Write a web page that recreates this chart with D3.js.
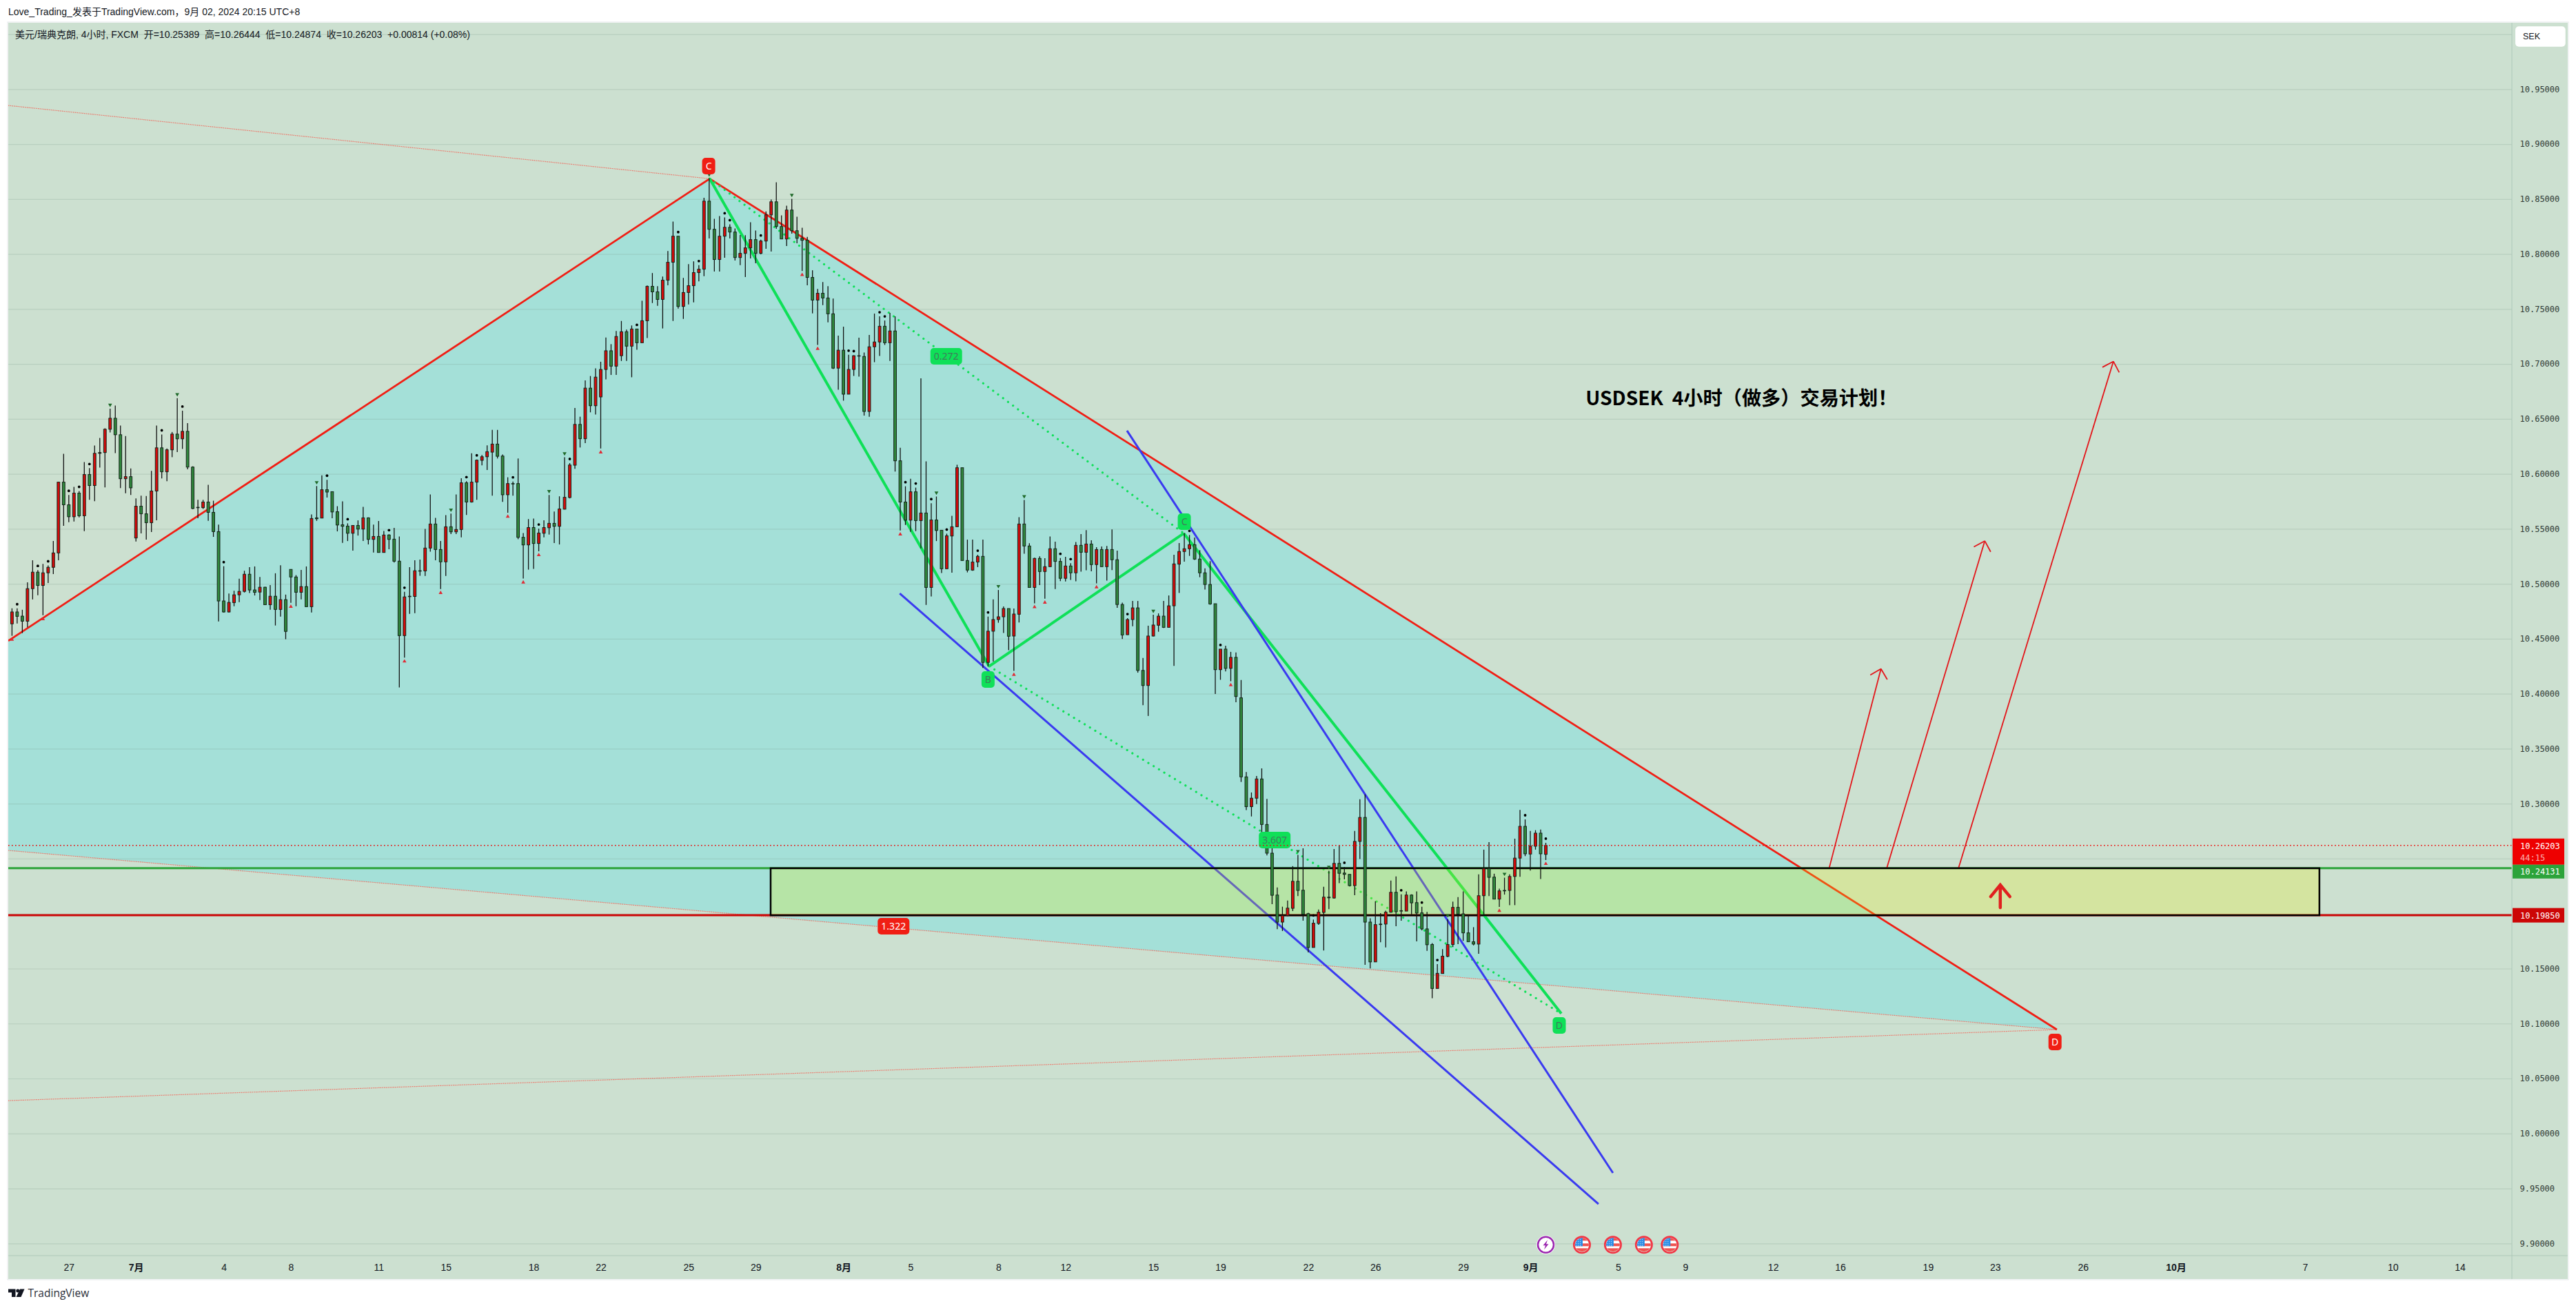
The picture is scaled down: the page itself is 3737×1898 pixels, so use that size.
<!DOCTYPE html>
<html><head><meta charset="utf-8">
<script src="https://cdnjs.cloudflare.com/ajax/libs/d3/7.8.5/d3.min.js"></script>
<style>html,body{margin:0;padding:0;background:#fff}svg{display:block;font-family:"Liberation Sans","Noto Sans CJK SC",sans-serif}</style></head><body>
<div id="chart"></div>
<script>
const opens=[
10.4636,10.4744,10.4706,10.4660,10.4956,10.5106,10.4985,10.5100,10.5150,10.5281,
10.5925,10.5719,10.5610,10.5825,10.5619,10.5994,10.5894,10.6187,10.6194,10.6406,
10.6506,10.6356,10.5956,10.5975,10.5417,10.5706,10.5637,10.5556,10.5844,10.6237,
10.6019,10.6219,10.6362,10.6319,10.6387,10.6062,10.5696,10.5693,10.5744,10.5650,
10.5475,10.4844,10.4744,10.4829,10.4900,10.4931,10.5087,10.4944,10.4925,10.4969,
10.4810,10.4887,10.4767,10.4856,10.5131,10.5062,10.4923,10.4975,10.4792,10.5600,
10.5598,10.5856,10.5838,10.5656,10.5537,10.5525,10.5460,10.5531,10.5498,10.5600,
10.5404,10.5431,10.5285,10.5444,10.5406,10.5206,10.4529,10.4883,10.4885,10.5119,
10.5117,10.5325,10.5544,10.5312,10.5200,10.5519,10.5473,10.5494,10.5919,10.5744,
10.5925,10.6123,10.6156,10.6198,10.6271,10.6162,10.5810,10.5912,10.5912,10.5423,
10.5354,10.5512,10.5367,10.5460,10.5510,10.5550,10.5523,10.5679,10.5785,10.6079,
10.6450,10.6320,10.6780,10.6620,10.6700,10.6950,10.7120,10.6980,10.7075,10.7293,
10.7162,10.7318,10.7193,10.7393,10.7706,10.7656,10.7587,10.7762,10.7925,10.8162,
10.7523,10.7650,10.7712,10.7831,10.7862,10.8481,10.8225,10.7950,10.8162,10.8243,
10.8200,10.7968,10.8006,10.8056,10.8131,10.8006,10.8118,10.8356,10.8475,10.8250,
10.8137,10.8400,10.8212,10.8143,10.8125,10.7787,10.7581,10.7643,10.7600,10.7456,
10.6962,10.7125,10.6725,10.6950,10.7075,10.7068,10.6568,10.7156,10.7200,10.7343,
10.7193,10.7300,10.6119,10.5744,10.5579,10.5837,10.5575,10.5644,10.4967,10.5581,
10.5487,10.5137,10.5435,10.5519,10.6056,10.5212,10.5125,10.5198,10.5250,10.4285,
10.4569,10.4675,10.4700,10.4775,10.4525,10.4723,10.5544,10.5344,10.4967,10.5231,
10.5112,10.5156,10.5319,10.5204,10.5050,10.5162,10.5100,10.5350,10.5287,10.5362,
10.5175,10.5312,10.5156,10.5312,10.5219,10.4812,10.4537,10.4675,10.4781,10.4212,
10.4075,10.4525,10.4623,10.4706,10.4604,10.4800,10.5179,10.5294,10.5319,10.5356,
10.5225,10.5100,10.4994,10.4819,10.4219,10.4406,10.4231,10.4331,10.3963,10.3244,
10.2973,10.3050,10.3225,10.2811,10.2550,10.2169,10.1923,10.1982,10.2048,10.2294,
10.2213,10.2000,10.1692,10.1911,10.2011,10.2150,10.2142,10.2457,10.2369,10.2357,
10.2255,10.2657,10.2875,10.1923,10.1561,10.1900,10.1905,10.2013,10.2194,10.2027,
10.2023,10.2169,10.2100,10.2007,10.1861,10.1719,10.1319,10.1455,10.1611,10.1719,
10.2057,10.1998,10.1825,10.1744,10.1723,10.2163,10.2411,10.2332,10.2132,10.2211,
10.2211,10.2338,10.2505,10.2794,10.2542,10.2613,10.2732,10.25389];
const closes=[
10.4744,10.4704,10.4660,10.4956,10.5106,10.4985,10.5100,10.5150,10.5281,10.5925,
10.5719,10.5610,10.5825,10.5619,10.5994,10.5894,10.6187,10.6194,10.6406,10.6506,
10.6356,10.5956,10.5975,10.5873,10.5706,10.5637,10.5556,10.5844,10.6237,10.6019,
10.6219,10.6362,10.6319,10.6387,10.6062,10.5685,10.5692,10.5744,10.5650,10.5475,
10.4844,10.4744,10.4831,10.4900,10.4931,10.5087,10.4944,10.4923,10.4969,10.4810,
10.4887,10.4767,10.4856,10.4567,10.5062,10.4923,10.4975,10.4792,10.5594,10.5592,
10.5856,10.5835,10.5654,10.5535,10.5523,10.5460,10.5531,10.5498,10.5600,10.5404,
10.5431,10.5285,10.5444,10.5404,10.5206,10.4529,10.4881,10.4887,10.5119,10.5117,
10.5325,10.5544,10.5312,10.5200,10.5519,10.5473,10.5494,10.5919,10.5744,10.5925,
10.6125,10.6156,10.6202,10.6271,10.6160,10.5810,10.5912,10.5908,10.5423,10.5354,
10.5512,10.5367,10.5462,10.5512,10.5550,10.5523,10.5681,10.5787,10.6081,10.6450,
10.6320,10.6780,10.6620,10.6880,10.6950,10.7120,10.6980,10.7250,10.7293,10.7162,
10.7318,10.7193,10.7393,10.7706,10.7656,10.7587,10.7762,10.7925,10.8162,10.7523,
10.7650,10.7712,10.7831,10.7862,10.8481,10.8225,10.7950,10.8162,10.8243,10.8200,
10.7968,10.8006,10.8056,10.8131,10.8006,10.8118,10.8356,10.8475,10.8250,10.8137,
10.8400,10.8212,10.8143,10.8125,10.7787,10.7581,10.7643,10.7600,10.7456,10.6962,
10.7125,10.6725,10.6950,10.7075,10.7071,10.6568,10.7156,10.7200,10.7343,10.7193,
10.7300,10.6119,10.5744,10.5579,10.5837,10.5575,10.5644,10.4967,10.5581,10.5485,
10.5137,10.5437,10.5519,10.6056,10.5212,10.5125,10.5198,10.5250,10.4285,10.4569,
10.4675,10.4700,10.4775,10.4523,10.4725,10.5544,10.5344,10.4967,10.5231,10.5112,
10.5156,10.5319,10.5204,10.5050,10.5162,10.5100,10.5350,10.5287,10.5362,10.5175,
10.5312,10.5156,10.5312,10.5219,10.4812,10.4535,10.4675,10.4781,10.4212,10.4075,
10.4525,10.4625,10.4706,10.4604,10.4800,10.5181,10.5294,10.5319,10.5356,10.5225,
10.5100,10.4994,10.4817,10.4219,10.4406,10.4231,10.4331,10.3975,10.3244,10.2973,
10.3050,10.3225,10.2811,10.2550,10.2167,10.1923,10.1982,10.2050,10.2294,10.2211,
10.1994,10.1692,10.1913,10.2013,10.2150,10.2144,10.2457,10.2367,10.2357,10.2255,
10.2657,10.2875,10.1923,10.1561,10.1900,10.1905,10.2013,10.2194,10.2017,10.2023,
10.2169,10.2098,10.2005,10.1861,10.1717,10.1319,10.1457,10.1613,10.1719,10.2057,
10.1996,10.1825,10.1744,10.1723,10.2163,10.2411,10.2330,10.2132,10.2207,10.2207,
10.2338,10.2505,10.2794,10.2544,10.2613,10.2732,10.2544,10.26203];
const highs=[
10.4777,10.4777,10.4764,10.5014,10.5214,10.5125,10.5181,10.5167,10.5389,10.5927,
10.6183,10.5808,10.5881,10.5844,10.6108,10.6052,10.6258,10.6327,10.6414,10.6594,
10.6621,10.6439,10.6344,10.6050,10.5777,10.5802,10.5798,10.6027,10.6439,10.6358,
10.6231,10.6381,10.6689,10.6575,10.6462,10.6069,10.5764,10.5764,10.5900,10.5756,
10.5539,10.5160,10.4912,10.4937,10.5046,10.5119,10.5152,10.5158,10.5062,10.4973,
10.4989,10.5096,10.5169,10.4902,10.5131,10.5079,10.5127,10.5158,10.5631,10.5889,
10.5987,10.5946,10.5840,10.5706,10.5750,10.5550,10.5531,10.5577,10.5700,10.5604,
10.5539,10.5571,10.5481,10.5450,10.5508,10.5431,10.4927,10.5152,10.5214,10.5221,
10.5500,10.5812,10.5600,10.5389,10.5625,10.5639,10.5812,10.5960,10.5933,10.6187,
10.6131,10.6171,10.6260,10.6400,10.6400,10.6177,10.5969,10.5931,10.6140,10.5462,
10.5589,10.5594,10.5502,10.5577,10.5808,10.5658,10.5796,10.6152,10.6098,10.6600,
10.6520,10.6850,10.6890,10.6960,10.7020,10.7240,10.7180,10.7300,10.7391,10.7312,
10.7350,10.7318,10.7575,10.7714,10.7827,10.7708,10.7795,10.8027,10.8295,10.8162,
10.7783,10.7908,10.7933,10.7898,10.8512,10.8689,10.8320,10.8345,10.8333,10.8270,
10.8233,10.8173,10.8171,10.8289,10.8214,10.8131,10.8387,10.8495,10.8652,10.8352,
10.8439,10.8502,10.8339,10.8239,10.8156,10.7852,10.7683,10.7745,10.7708,10.7595,
10.7258,10.7339,10.7083,10.7079,10.7239,10.7104,10.7264,10.7458,10.7433,10.7395,
10.7464,10.7433,10.6237,10.5887,10.5956,10.5875,10.6869,10.6114,10.5733,10.5794,
10.5487,10.5456,10.5619,10.6083,10.6056,10.5402,10.5402,10.5264,10.5402,10.4702,
10.4858,10.4944,10.4794,10.4775,10.4775,10.5606,10.5762,10.5369,10.5237,10.5250,
10.5233,10.5431,10.5383,10.5235,10.5246,10.5187,10.5381,10.5452,10.5489,10.5396,
10.5333,10.5339,10.5344,10.5494,10.5302,10.4829,10.4687,10.4844,10.4844,10.4325,
10.4619,10.4719,10.4731,10.4844,10.4894,10.5264,10.5371,10.5462,10.5444,10.5421,
10.5306,10.5140,10.5206,10.4819,10.4406,10.4437,10.4381,10.4375,10.4125,10.3288,
10.3102,10.3252,10.3321,10.3044,10.2732,10.2238,10.2063,10.2119,10.2432,10.2534,
10.2594,10.2007,10.1946,10.2038,10.2244,10.2390,10.2588,10.2623,10.2425,10.2357,
10.2752,10.3040,10.3084,10.1957,10.2113,10.2005,10.2027,10.2300,10.2338,10.2175,
10.2202,10.2175,10.2202,10.2063,10.2015,10.1732,10.1540,10.1677,10.1950,10.2109,
10.2150,10.2202,10.1988,10.1877,10.2357,10.2582,10.2650,10.2363,10.2227,10.2327,
10.2357,10.2682,10.2944,10.2857,10.2752,10.2759,10.2765,10.26444];
const lows=[
10.4527,10.4639,10.4552,10.4604,10.4858,10.4896,10.4714,10.5008,10.5089,10.5214,
10.5527,10.5560,10.5567,10.5604,10.5479,10.5764,10.5752,10.6058,10.5877,10.6377,
10.6189,10.5871,10.5823,10.5808,10.5385,10.5458,10.5402,10.5471,10.5577,10.5958,
10.5933,10.6152,10.6198,10.6227,10.6042,10.5679,10.5596,10.5681,10.5573,10.5427,
10.4658,10.4739,10.4739,10.4796,10.4833,10.4921,10.4917,10.4894,10.4852,10.4810,
10.4764,10.4621,10.4702,10.4496,10.4827,10.4796,10.4858,10.4792,10.4739,10.5573,
10.5598,10.5785,10.5596,10.5477,10.5373,10.5389,10.5302,10.5439,10.5389,10.5358,
10.5285,10.5285,10.5285,10.5314,10.5194,10.4058,10.4329,10.4727,10.4733,10.5073,
10.5071,10.5292,10.5214,10.4952,10.5071,10.5452,10.5452,10.5423,10.5627,10.5739,
10.5764,10.6077,10.6035,10.5802,10.6140,10.5746,10.5646,10.5802,10.5406,10.5048,
10.5129,10.5135,10.5296,10.5423,10.5448,10.5371,10.5358,10.5677,10.5777,10.6046,
10.6240,10.6280,10.6560,10.6540,10.6231,10.6860,10.6900,10.6900,10.7027,10.7027,
10.6879,10.7129,10.7193,10.7235,10.7554,10.7529,10.7323,10.7716,10.7391,10.7504,
10.7410,10.7541,10.7560,10.7752,10.7798,10.8141,10.7841,10.7841,10.7966,10.8141,
10.7941,10.7898,10.7791,10.7960,10.7916,10.7998,10.8048,10.8023,10.8229,10.8137,
10.8073,10.8185,10.8098,10.7845,10.7716,10.7460,10.7173,10.7535,10.7379,10.6954,
10.6766,10.6666,10.6725,10.6891,10.6885,10.6530,10.6520,10.7016,10.7073,10.7173,
10.7027,10.6021,10.5485,10.5535,10.5473,10.5479,10.5323,10.4808,10.4885,10.5389,
10.5098,10.5135,10.5102,10.5519,10.5212,10.5104,10.5119,10.5152,10.4235,10.4250,
10.4292,10.4646,10.4552,10.4396,10.4208,10.4648,10.5273,10.4967,10.4823,10.4989,
10.4864,10.5156,10.4952,10.5025,10.5021,10.5035,10.5023,10.5110,10.5123,10.5114,
10.5004,10.5156,10.5029,10.5125,10.4781,10.4498,10.4535,10.4614,10.4192,10.3896,
10.3798,10.4521,10.4564,10.4598,10.4604,10.4254,10.4917,10.5202,10.5254,10.5217,
10.5060,10.4948,10.4810,10.3998,10.4127,10.4204,10.4114,10.3923,10.3198,10.2942,
10.2884,10.2996,10.2713,10.2530,10.2086,10.1859,10.1842,10.1977,10.2023,10.2159,
10.1936,10.1648,10.1692,10.1898,10.1665,10.2040,10.2136,10.2277,10.2311,10.2248,
10.2167,10.2496,10.1534,10.1502,10.1561,10.1740,10.1692,10.2009,10.1886,10.1936,
10.2023,10.1994,10.1748,10.1848,10.1661,10.1230,10.1319,10.1455,10.1604,10.1696,
10.1723,10.1752,10.1744,10.1711,10.1634,10.1988,10.2159,10.2132,10.2061,10.2173,
10.2077,10.2077,10.2336,10.2523,10.2392,10.2582,10.2315,10.24874];

const dotBars=[1,5,7,11,13,15,29,33,41,61,65,73,76,88,90,97,102,108,121,129,133,138,139,145,162,163,168,169,173,175,178,181,187,189,203,205,216,228,234,252,258,269,273,276,293,297];
const upBars=[0,6,54,76,83,96,99,102,114,153,156,172,194,198,200,210,236,288,297];
const downBars=[19,32,59,85,104,107,135,151,179,191,196,221,249,255,278,289];

const yTicks=[10.95,10.9,10.85,10.8,10.75,10.7,10.65,10.6,10.55,10.5,10.45,10.4,10.35,10.3,10.15,10.1,10.05,10,9.95,9.9];
const gridTicks=[11,10.25,10.2].concat(yTicks);
const timeBars=[11,24,41,54,71,84,101,114,131,144,161,174,191,204,221,234,251,264,281,294,311,324,341,354,371,384,401,419,444,461,474];
const timeLabels=["27","7月","4","8","11","15","18","22","25","29","8月","5","8","12","15","19","22","26","29","9月","5","9","12","16","19","23","26","10月","7","10","14"];

const patX=[-0.72,135.1,395.96], patXPrice=[10.4481,10.8685,10.0945];
const patBaseBar=-0.72, patBasePrice=10.2575;
const thinTopBar=-0.72, thinTopPrice=10.9351;
const thinLowBar=-0.72, thinLowPrice=10.0299;
const abcdBars=[135.1,189.2,226.9,300.0], abcdPrices=[10.8685,10.4250,10.5459,10.1091];
const blueA=[[171.9,10.4913],[307.2,9.9359]];
const blueB=[[215.9,10.6393],[310.0,9.9641]];
const zoneBars=[146.9,446.8], zonePrices=[10.24131,10.1985];
const arrowSets=[[[351.9,10.2419],[361.9,10.4227]],[[363.0,10.2410],[382.0,10.5390]],[[376.9,10.2412],[406.9,10.7023]]];
const bigArrow=[385.0,10.2055,10.2261];
const greenTags=[{t:"0.272",b:180.9,p:10.7070,w:46},{t:"3.607",b:244.5,p:10.2669,w:46},{t:"B",b:189.0,p:10.4130,w:19},{t:"C",b:227.0,p:10.5565,w:19},{t:"D",b:299.6,p:10.0983,w:19}];
const redTags=[{t:"C",b:134.9,p:10.8800,w:19},{t:"D",b:395.6,p:10.0832,w:19},{t:"1.322",b:170.7,p:10.1885,w:46}];
const lastPrice=10.26203, greenLevel=10.24131, redLevel=10.1985;
const eventBolt=297, eventFlags=[304,310,316,321];

const W=3737,H=1898;
const pane={l:12,t:33,r:3644,b:1822,R:3725,B:1856};
const x=d3.scaleLinear().domain([0,297]).range([17.4,2242.5]);
const y=d3.scaleLinear().domain([9.9,10.95]).range([1804.3,129.3]);
const svg=d3.select("#chart").append("svg").attr("width",W).attr("height",H);
const defs=svg.append("defs");
defs.append("clipPath").attr("id","pc").append("rect").attr("x",pane.l).attr("y",pane.t).attr("width",pane.r-pane.l).attr("height",pane.b-pane.t);

svg.append("rect").attr("x",pane.l).attr("y",pane.t).attr("width",pane.R-pane.l).attr("height",pane.B-pane.t).attr("fill","#cce0d0");
svg.append("rect").attr("x",pane.l-1).attr("y",pane.t-1).attr("width",pane.R-pane.l+2).attr("height",pane.B-pane.t+2).attr("fill","none").attr("stroke","#e4e8ea");

const g=svg.append("g").attr("clip-path","url(#pc)");
const pt=(b,p)=>[x(b),y(p)];
g.append("path").attr("fill","#a4e0d8").attr("d",d3.line()([pt(patX[0],patXPrice[0]),pt(patX[1],patXPrice[1]),pt(patX[2],patXPrice[2]),pt(patBaseBar,patBasePrice)])+"Z");
const gridAxis=d3.axisLeft(y).tickValues(gridTicks).tickSize(pane.l-pane.r).tickFormat("");
g.append("g").attr("transform",`translate(${pane.l},0)`).call(gridAxis).call(s=>s.select(".domain").remove()).selectAll("line").attr("stroke","#7a9a8a").attr("stroke-opacity",.24).attr("stroke-width",1.2);

const seg=(a,b,st,w,dash)=>{const l=g.append("line").attr("x1",x(a[0])).attr("y1",y(a[1])).attr("x2",x(b[0])).attr("y2",y(b[1])).attr("stroke",st).attr("stroke-width",w);if(dash)l.attr("stroke-dasharray",dash);return l;};
seg([thinTopBar,thinTopPrice],[patX[1],patXPrice[1]],"#ef6f62",1.2,"1.5,1.2");
seg([patBaseBar,patBasePrice],[patX[2],patXPrice[2]],"#ef6f62",1.2,"1.5,1.2");
seg([thinLowBar,thinLowPrice],[patX[2],patXPrice[2]],"#ef6f62",1.2,"1.5,1.2");
seg([patX[0],patXPrice[0]],[patX[1],patXPrice[1]],"#f01e14",2.8);
seg([patX[1],patXPrice[1]],[patX[2],patXPrice[2]],"#f01e14",2.8);
g.append("line").attr("x1",pane.l).attr("x2",pane.r).attr("y1",y(greenLevel)).attr("y2",y(greenLevel)).attr("stroke","#2da43a").attr("stroke-width",3);
g.append("line").attr("x1",pane.l).attr("x2",pane.r).attr("y1",y(redLevel)).attr("y2",y(redLevel)).attr("stroke","#cc0606").attr("stroke-width",3);
const gc="#0fe058";
seg([abcdBars[0],abcdPrices[0]],[abcdBars[1],abcdPrices[1]],gc,4);
seg([abcdBars[1],abcdPrices[1]],[abcdBars[2],abcdPrices[2]],gc,4);
seg([abcdBars[2],abcdPrices[2]],[abcdBars[3],abcdPrices[3]],gc,4);
seg([abcdBars[0],abcdPrices[0]],[abcdBars[2],abcdPrices[2]],gc,3.2,"0.01,9").attr("stroke-linecap","round");
seg([abcdBars[1],abcdPrices[1]],[abcdBars[3],abcdPrices[3]],gc,3.2,"0.01,9").attr("stroke-linecap","round");
seg(blueA[0],blueA[1],"#3a3af0",3);
seg(blueB[0],blueB[1],"#3a3af0",3);
arrowSets.forEach(a=>{
  seg(a[0],a[1],"#e3151a",1.8);
  const [x0,y0]=pt(a[0][0],a[0][1]),[x1,y1]=pt(a[1][0],a[1][1]);
  const ang=Math.atan2(y0-y1,x0-x1);
  [-Math.PI/4,Math.PI/4].forEach(d=>g.append("line").attr("x1",x1).attr("y1",y1).attr("x2",x1+18*Math.cos(ang+d)).attr("y2",y1+18*Math.sin(ang+d)).attr("stroke","#e3151a").attr("stroke-width",1.8));
});
g.append("rect").attr("x",x(zoneBars[0])).attr("width",x(zoneBars[1])-x(zoneBars[0])).attr("y",y(zonePrices[0])).attr("height",y(zonePrices[1])-y(zonePrices[0])).attr("fill","rgb(236,240,16)").attr("fill-opacity",.25).attr("stroke","#000").attr("stroke-width",2.5);
{const bx=x(bigArrow[0]),y0=y(bigArrow[1]),y1=y(bigArrow[2]);
 g.append("path").attr("d",d3.line()([[bx,y0],[bx,y1]])+d3.line()([[bx-14,y1+17],[bx,y1],[bx+14,y1+17]])).attr("fill","none").attr("stroke","#e0201f").attr("stroke-width",4.5).attr("stroke-linecap","round");}

const idx=d3.range(opens.length);
const up=i=>closes[i]>=opens[i];
const cg=g.append("g");
cg.selectAll("line.w").data(idx).join("line").attr("class","w").attr("x1",x).attr("x2",x).attr("y1",i=>y(highs[i])).attr("y2",i=>y(lows[i])).attr("stroke","#111").attr("stroke-width",1.3);
cg.selectAll("rect.b").data(idx).join("rect").attr("class","b").attr("x",i=>x(i)-1.9).attr("width",3.8)
 .attr("y",i=>y(Math.max(opens[i],closes[i]))).attr("height",i=>Math.max(.6,Math.abs(y(opens[i])-y(closes[i]))))
 .attr("fill",i=>up(i)?"#d60a0a":"#30873c").attr("stroke","#14241a").attr("stroke-width",1);
g.selectAll("circle.dot").data(dotBars).join("circle").attr("class","dot").attr("cx",x).attr("cy",i=>y(highs[i])-6).attr("r",1.9).attr("fill","#000");
g.selectAll("path.tu").data(upBars).join("path").attr("class","tu").attr("d",d3.symbol(d3.symbolTriangle,14)).attr("transform",i=>`translate(${x(i)},${y(lows[i])+5.5})`).attr("fill","#e02b35");
g.selectAll("path.td").data(downBars).join("path").attr("class","td").attr("d",d3.symbol(d3.symbolTriangle,14)).attr("transform",i=>`translate(${x(i)},${y(highs[i])-5.5}) rotate(180)`).attr("fill","#1f6a2a");

const tag=(d,fill,tc)=>{const [cx,cy]=pt(d.b,d.p);
 g.append("rect").attr("x",cx-d.w/2).attr("y",cy-12).attr("width",d.w).attr("height",24).attr("rx",5).attr("fill",fill);
 g.append("text").attr("x",cx).attr("y",cy+1).attr("text-anchor","middle").attr("dominant-baseline","middle").attr("font-size",14).attr("font-family",'"Noto Sans",sans-serif').attr("fill",tc).text(d.t);};
greenTags.forEach(d=>tag(d,"#0fe058","#3f7a5c"));
redTags.forEach(d=>tag(d,"#f01e14","#fff"));

g.append("line").attr("x1",pane.l).attr("x2",pane.r).attr("y1",y(lastPrice)).attr("y2",y(lastPrice)).attr("stroke","#f00000").attr("stroke-width",1.6).attr("stroke-dasharray","1.6,3.4");

g.append("text").attr("x",x(304.7)).attr("y",y(10.6675)).attr("dominant-baseline","middle").attr("font-size",28.2).attr("font-weight",700).attr("fill","#000").attr("font-family",'"Noto Sans CJK SC",sans-serif').attr("xml:space","preserve").text("USDSEK  4小时（做多）交易计划！");

const evY=y(9.9)+2;
{const c=svg.append("g").attr("transform",`translate(${x(eventBolt)},${evY})`);
 c.append("circle").attr("r",13.5).attr("fill","#fff");
 c.append("circle").attr("r",11.5).attr("fill","#fff").attr("stroke","#9c27b0").attr("stroke-width",2.5);
 c.append("path").attr("d","M2.5,-7 L-4,1 L-0.5,1 L-2.5,7 L4,-1 L0.5,-1 Z").attr("fill","#9c27b0");}
eventFlags.forEach((b,k)=>{
 const c=svg.append("g").attr("transform",`translate(${x(b)},${evY})`);
 const id="fl"+k;
 c.append("clipPath").attr("id",id).append("circle").attr("r",10);
 const f=c.append("g").attr("clip-path",`url(#${id})`);
 f.append("rect").attr("x",-11).attr("y",-11).attr("width",22).attr("height",22).attr("fill","#fff");
 f.append("rect").attr("x",-11).attr("y",-11).attr("width",22).attr("height",5).attr("fill","#ef5350");
 f.append("rect").attr("x",-11).attr("y",-2).attr("width",22).attr("height",4).attr("fill","#ef5350");
 f.append("rect").attr("x",-11).attr("y",5).attr("width",22).attr("height",5).attr("fill","#ef5350");
 f.append("rect").attr("x",-11).attr("y",-11).attr("width",12).attr("height",13).attr("fill","#2e8ee6");
 d3.range(-9,0,3).forEach(px=>d3.range(-8,2,3).forEach(py=>f.append("rect").attr("x",px).attr("y",py).attr("width",1).attr("height",1).attr("fill","#fff")));
 c.append("circle").attr("r",11.7).attr("fill","none").attr("stroke","#f23645").attr("stroke-width",2.6);
});

svg.append("line").attr("x1",pane.r).attr("x2",pane.r).attr("y1",pane.t).attr("y2",pane.B).attr("stroke","#aec8b9").attr("stroke-width",1);
svg.append("line").attr("x1",pane.l).attr("x2",pane.R).attr("y1",pane.b).attr("y2",pane.b).attr("stroke","#aec8b9").attr("stroke-width",1);

const ya=svg.append("g").attr("transform","translate(3655.5,0)").call(d3.axisRight(y).tickValues(yTicks).tickSize(0).tickPadding(0).tickFormat(d3.format(".5f")));
ya.select(".domain").remove();
ya.selectAll("text").attr("font-family",'"DejaVu Sans Mono",monospace').attr("font-size",12).attr("fill","#2f3a35");

const xa=svg.append("g").attr("transform",`translate(0,${pane.b})`).call(d3.axisBottom(x).tickValues(timeBars).tickSize(0).tickPadding(0).tickFormat((d,i)=>timeLabels[i]));
xa.select(".domain").remove();
xa.selectAll("text").attr("y",0).attr("dy",0).attr("transform","translate(0,18)").attr("dominant-baseline","middle")
  .attr("font-size",14).attr("fill","#131722").attr("font-family",'"Liberation Sans","Noto Sans CJK SC",sans-serif')
  .attr("font-weight",(d,i)=>timeLabels[i].includes("月")?700:400);

const box=(y0,y1,c)=>svg.append("rect").attr("x",3645).attr("y",y0).attr("width",75).attr("height",y1-y0).attr("fill",c);
const boxText=(yy,t,c,a)=>svg.append("text").attr("x",3656).attr("y",yy).attr("dominant-baseline","middle").attr("font-family",'"DejaVu Sans Mono",monospace').attr("font-size",12).attr("fill",c).attr("fill-opacity",a||1).text(t);
box(y(lastPrice)-10,y(lastPrice)+28,"#ee0000");
box(y(lastPrice)+28,y(lastPrice)+48,"#2ca33a");
box(y(redLevel)-10.5,y(redLevel)+10.5,"#cc0606");
boxText(y(lastPrice)+1.5,d3.format(".5f")(lastPrice),"#fff");
boxText(y(lastPrice)+18.5,"44:15","#fff",.7);
boxText(y(lastPrice)+38.5,d3.format(".5f")(greenLevel),"#fff");
boxText(y(redLevel)+1,d3.format(".5f")(redLevel),"#fff");

svg.append("rect").attr("x",3649).attr("y",38.3).attr("width",72.7).attr("height",29.4).attr("rx",5).attr("fill","#fff");
svg.append("text").attr("x",3660).attr("y",53.5).attr("dominant-baseline","middle").attr("font-size",12.5).attr("fill","#131722").text("SEK");

const zh='"Liberation Sans","Noto Sans CJK SC",sans-serif';
svg.append("text").attr("x",12).attr("y",18).attr("dominant-baseline","middle").attr("font-size",14).attr("font-family",zh).attr("fill","#131722").text("Love_Trading_发表于TradingView.com，9月 02, 2024 20:15 UTC+8");
svg.append("text").attr("x",22).attr("y",51.7).attr("dominant-baseline","middle").attr("font-size",14).attr("font-family",zh).attr("fill","#131722").attr("xml:space","preserve").text("美元/瑞典克朗, 4小时, FXCM  开=10.25389  高=10.26444  低=10.24874  收=10.26203  +0.00814 (+0.08%)");

const lg=svg.append("g").attr("transform","translate(12,1870.5)").attr("fill","#131722");
lg.append("path").attr("d","M0,0H10.5V11.5H5V5H0Z");
lg.append("circle").attr("cx",13.8).attr("cy",2.5).attr("r",2.5);
lg.append("path").attr("d","M17,0H23.5L18.5,11.5H11.5Z");
svg.append("text").attr("x",40.5).attr("y",1877.5).attr("dominant-baseline","middle").attr("font-size",15.5).attr("fill","#2a2e39").attr("font-family","'Open Sans',sans-serif").text("TradingView");
</script></body></html>
